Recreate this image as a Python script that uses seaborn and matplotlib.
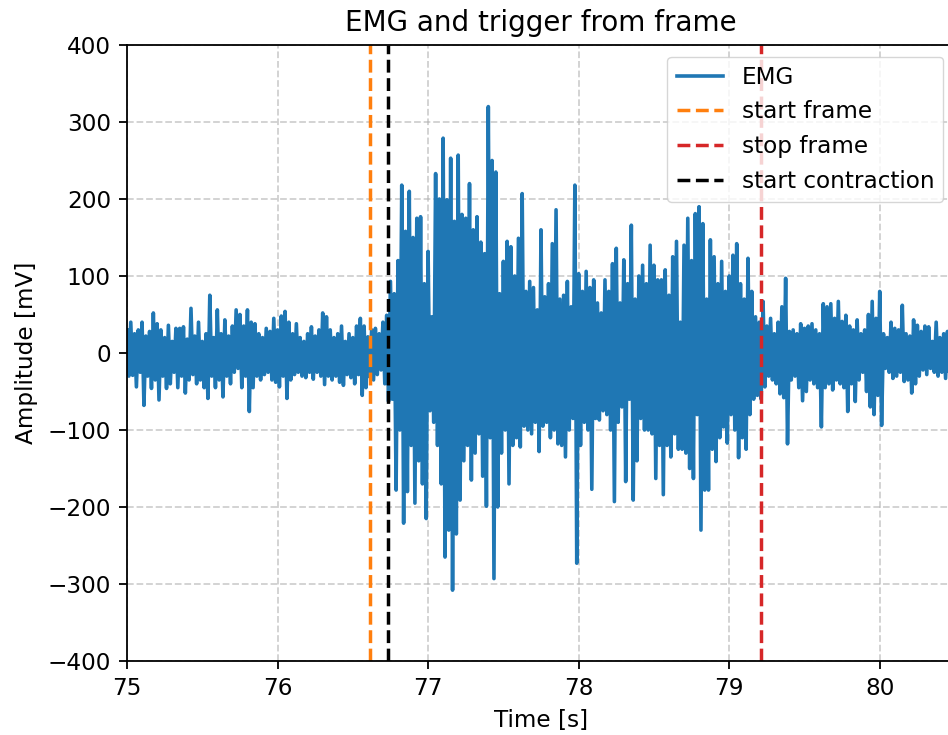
import numpy as np
import pandas as pd
import matplotlib
matplotlib.use("Agg")
import matplotlib.pyplot as plt
import seaborn as sns

# ---- data (EMG peaks per 25 ms step, starting at 75 s) ----
t_start = 75.0
step = 0.025

high_rest1 = [30, 40, 25, 30, 40, 22, 28, 52, 38, 30, 20, 36, 15, 32, 32, 34, 18, 58, 22, 40,
              15, 25, 75, 20, 56, 25, 43, 22, 35, 56, 50, 35,
              56, 40, 38, 25, 20, 32, 28, 45, 30, 48, 54, 40, 25, 38, 20, 15, 25, 34, 22, 30,
              52, 47, 30, 20, 25, 35, 15, 25, 20, 35, 45]
low_rest1 = [-30, -29, -44, -25, -68, -30, -46, -35, -61, -30, -46, -40, -25, -45, -30, -52, -35, -28, -40, -35,
             -45, -59, -30, -45, -35, -57, -30, -40, -25, -20, -45, -30,
             -76, -45, -30, -35, -28, -25, -35, -38, -44, -30, -59, -35, -28, -25, -30, -32, -25, -34, -25, -30,
             -41, -30, -35, -30, -38, -42, -28, -32, -40, -28, -55]

high_burst = [35, 21, 30, 32, 25, 40, 49, 93, 77, 120, 218, 158, 210, 150, 175, 177, 90, 132, 47, 233,
              200, 279, 199, 253, 171, 257, 180, 175, 220, 160, 177,
              144, 129, 320, 250, 235, 77, 119, 145, 138, 100, 149, 207, 80, 93, 85, 56, 160, 73, 90, 142,
              186, 70, 75, 93, 60, 218, 103, 80, 106, 85, 95,
              65, 52, 95, 80, 116, 136, 65, 121, 90, 166, 70, 100, 114, 90, 140, 114, 95, 95, 108, 75,
              125, 145, 40, 140, 175, 120, 181, 190, 168, 70, 147]
low_burst = [-45, -31, -35, -28, -22, -40, -63, -60, -178, -100, -221, -180, -120, -195, -140, -170, -215, -75, -90, -120,
             -170, -265, -230, -308, -235, -191, -140, -120, -165, -130, -105,
             -160, -199, -110, -293, -200, -130, -100, -170, -120, -110, -122, -95, -100, -105, -90, -128, -95, -90, -110, -100,
             -118, -120, -135, -100, -85, -273, -120, -90, -100, -177, -85,
             -87, -75, -80, -100, -193, -90, -70, -167, -60, -191, -140, -85, -100, -100, -105, -163, -120, -184, -120, -135,
             -105, -125, -125, -130, -150, -163, -80, -230, -178, -178, -125]

high_rest2 = [125, 90, 119, 80, 100, 127, 142, 90, 70, 123, 80, 47, 40, 67, 35, 45, 25, 40, 60, 97,
              28, 30, 25, 38, 32, 35, 38, 30, 25, 64, 60,
              64, 45, 67, 41, 49, 35, 30, 43, 25, 30, 50, 67, 45, 80, 25, 20, 40, 32, 30, 62,
              25, 22, 43, 36, 28, 35, 34, 15, 40, 20, 25, 28]
low_rest2 = [-141, -110, -96, -117, -80, -100, -136, -110, -125, -80, -60, -55, -60, -44, -30, -35, -40, -53, -58, -118,
             -35, -30, -45, -62, -50, -35, -40, -45, -96, -45, -40,
             -48, -35, -40, -45, -76, -40, -63, -35, -25, -50, -70, -80, -55, -94, -20, -25, -33, -30, -25, -37,
             -35, -52, -40, -30, -22, -28, -20, -25, -30, -25, -33, -35]

start_frame = 76.615
start_contraction = 76.737
stop_frame = 79.21

# ---- build the series ----
highs = np.array(high_rest1 + high_burst + high_rest2, dtype=float)
lows = np.array(low_rest1 + low_burst + low_rest2, dtype=float)
n = len(highs)
t_high = t_start + step * np.arange(n)
t_low = t_high + step / 2
times = np.empty(2 * n)
vals = np.empty(2 * n)
times[0::2] = t_high
times[1::2] = t_low
vals[0::2] = highs
vals[1::2] = lows
df = pd.DataFrame({"Time": times, "Amplitude": vals})

# ---- figure ----
fs = 16.7
plt.rcParams.update({"font.size": fs, "font.family": ["DejaVu Sans"]})
fig = plt.figure(figsize=(9.48, 7.35), dpi=100)
ax = fig.add_axes([127 / 948, 1 - 661 / 735, (955 - 127) / 948, (661 - 45) / 735])

sns.lineplot(data=df, x="Time", y="Amplitude", ax=ax, estimator=None, sort=False,
             color="#1f77b4", linewidth=2.6, label="EMG")
ax.axvline(start_frame, color="#ff7f0e", linestyle="--", linewidth=2.5, label="start frame")
ax.axvline(stop_frame, color="#d62728", linestyle="--", linewidth=2.5, label="stop frame")
ax.axvline(start_contraction, color="black", linestyle="--", linewidth=2.5, label="start contraction")

ax.set_xlim(75, 80.5)
ax.set_ylim(-400, 400)
ax.set_xticks([75, 76, 77, 78, 79, 80])
ax.set_yticks(np.arange(-400, 401, 100))
ax.grid(True, linestyle="--", color="#b0b0b0", alpha=0.6, linewidth=1.3)
ax.set_axisbelow(True)
ax.tick_params(labelsize=fs, width=1.3, length=5.8, pad=5.8)
for s in ax.spines.values():
    s.set_linewidth(1.3)

ax.set_title("EMG and trigger from frame", fontsize=20, pad=10)
ax.set_xlabel("Time [s]", fontsize=fs, labelpad=6.7)
ax.set_ylabel("Amplitude [mV]", fontsize=fs, labelpad=6.7)
ax.legend(loc="upper right", fontsize=fs)

fig.savefig("out.png", dpi=100)
